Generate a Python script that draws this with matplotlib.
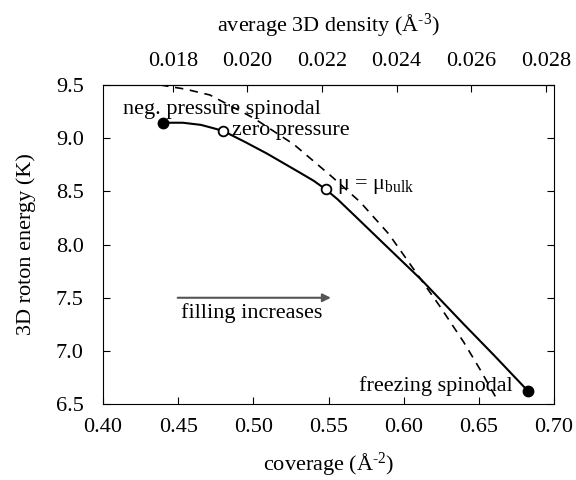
import matplotlib
matplotlib.use('Agg')
import matplotlib.pyplot as plt
import numpy as np

plt.rcParams['font.family'] = ['Liberation Serif', 'DejaVu Serif']
plt.rcParams['mathtext.fontset'] = 'custom'
plt.rcParams['mathtext.rm'] = 'Liberation Serif'
plt.rcParams['mathtext.it'] = 'Liberation Serif:italic'

# solid curve: roton energy along the filling path
coverage = [0.44, 0.453, 0.465, 0.473, 0.48, 0.495, 0.509, 0.531, 0.54, 0.548,
            0.556, 0.566, 0.584, 0.612, 0.64, 0.66, 0.6825]
energy = [9.145, 9.145, 9.125, 9.095, 9.067, 8.96, 8.855, 8.675, 8.60, 8.52,
          8.425, 8.29, 8.045, 7.665, 7.25, 6.96, 6.625]

# dashed curve
dash_cov = [0.438, 0.455, 0.471, 0.50, 0.527, 0.552, 0.571, 0.590, 0.607,
            0.624, 0.640, 0.651, 0.663]
dash_e = [9.50, 9.46, 9.406, 9.19, 8.94, 8.64, 8.40, 8.10, 7.76,
          7.42, 7.08, 6.82, 6.52]

# special points
spinodal_cov = [0.44, 0.6825]
spinodal_e = [9.145, 6.625]
open_cov = [0.48, 0.548]
open_e = [9.067, 8.52]

LAYER = 24.8  # coverage / density (Angstrom)
FS = 16

fig = plt.figure(figsize=(5.76, 4.8), dpi=100)
ax = fig.add_axes([0.179, 0.158, 0.783, 0.665])

ax.plot(dash_cov, dash_e, color='black', lw=1.2, ls=(0, (5, 4)))
ax.plot(coverage, energy, color='black', lw=1.5)
ax.plot(spinodal_cov, spinodal_e, 'o', color='black', ms=7.5)
ax.plot(open_cov, open_e, 'o', mfc='white', mec='black', mew=1.3, ms=7)

ax.set_xlim(0.40, 0.70)
ax.set_ylim(6.5, 9.5)
ax.set_xticks(np.arange(0.40, 0.701, 0.05))
ax.set_yticks(np.arange(6.5, 9.51, 0.5))
ax.xaxis.set_major_formatter(matplotlib.ticker.FormatStrFormatter('%.2f'))
ax.yaxis.set_major_formatter(matplotlib.ticker.FormatStrFormatter('%.1f'))
ax.tick_params(direction='in', length=5, labelsize=FS, right=True)
ax.tick_params(axis='y', pad=14)
ax.tick_params(axis='x', pad=10)

sec = ax.secondary_xaxis('top', functions=(lambda c: c / LAYER, lambda d: d * LAYER))
sec.set_xticks(np.arange(0.018, 0.0281, 0.002))
sec.xaxis.set_major_formatter(matplotlib.ticker.FormatStrFormatter('%.3f'))
sec.tick_params(direction='in', length=5, labelsize=FS, pad=10)
sec.set_xlabel('average 3D density (Å$^{\u2010 3}$)', fontsize=FS, labelpad=15)

ax.set_xlabel('coverage (Å$^{\u20102}$)', fontsize=FS, labelpad=9)
ax.set_ylabel('3D roton energy (K)', fontsize=FS, labelpad=14)

ax.text(0.4132, 9.27, 'neg. pressure spinodal', fontsize=FS, va='center')
ax.text(0.4857, 9.075, 'zero pressure', fontsize=FS, va='center')
ax.text(0.5557, 8.55, 'μ = μ$_{\\mathrm{bulk}}$', fontsize=FS, va='center')
ax.text(0.6727, 6.67, 'freezing spinodal', fontsize=FS, va='center', ha='right')

ax.annotate('', xy=(0.5515, 7.5), xytext=(0.4496, 7.5),
            arrowprops=dict(arrowstyle='-|>', color='#555555', lw=1.5,
                            mutation_scale=12, shrinkA=0, shrinkB=0))
ax.text(0.4516, 7.36, 'filling increases', fontsize=FS, va='center')

fig.savefig('out.png', dpi=100)
